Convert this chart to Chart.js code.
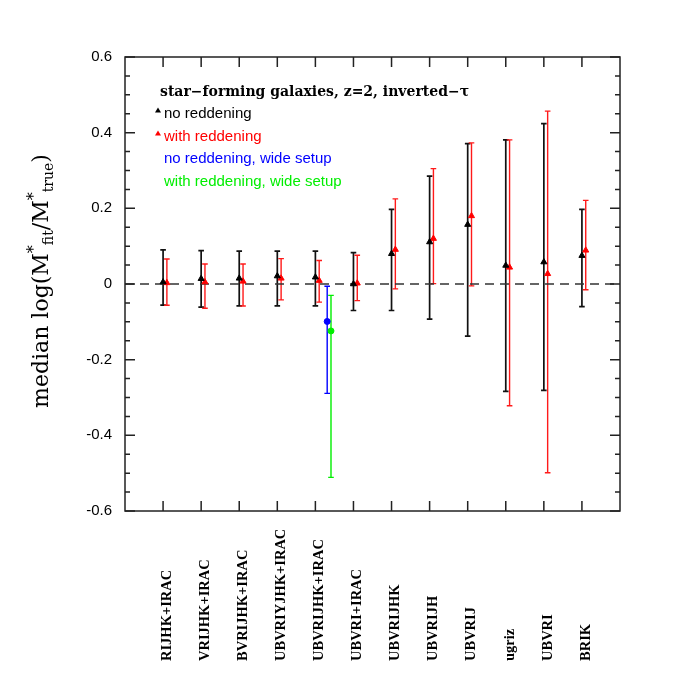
<!DOCTYPE html>
<html>
<head>
<meta charset="utf-8">
<script src="https://cdn.jsdelivr.net/npm/chart.js@4.4.1/dist/chart.umd.min.js"></script>
<style>
  html, body { margin: 0; padding: 0; background: #fff; }
  #c { display: block; }
</style>
</head>
<body>
<canvas id="c" width="676" height="676"></canvas>
<script>
// photometric setups along the x axis
var setups = ['RIJHK+IRAC', 'VRIJHK+IRAC', 'BVRIJHK+IRAC', 'UBVRIYJHK+IRAC', 'UBVRIJHK+IRAC',
  'UBVRI+IRAC', 'UBVRIJHK', 'UBVRIJH', 'UBVRIJ', 'ugriz', 'UBVRI', 'BRIK'];

// no reddening : median, upper and lower end of the bar
var noRedMed = [0.005, 0.014, 0.015, 0.021, 0.018, 0.000, 0.080, 0.111, 0.157, 0.049, 0.058, 0.075];
var noRedHi  = [0.090, 0.088, 0.087, 0.087, 0.087, 0.083, 0.197, 0.285, 0.371, 0.381, 0.424, 0.197];
var noRedLo  = [-0.056, -0.061, -0.058, -0.058, -0.058, -0.070, -0.070, -0.093, -0.138, -0.284, -0.281, -0.060];

// with reddening
var redMed = [0.003, 0.005, 0.007, 0.015, 0.009, 0.002, 0.091, 0.120, 0.180, 0.044, 0.027, 0.089];
var redHi  = [0.066, 0.053, 0.053, 0.067, 0.062, 0.076, 0.225, 0.305, 0.373, 0.381, 0.457, 0.221];
var redLo  = [-0.056, -0.064, -0.058, -0.042, -0.048, -0.044, -0.013, 0.001, -0.005, -0.322, -0.499, -0.015];

// wide setup (only for UBVRIJHK+IRAC)
var wideSetup = 'UBVRIJHK+IRAC';
var wideNoRed = [-0.099, -0.006, -0.289];   // median, hi, lo
var wideRed   = [-0.124, -0.030, -0.511];

var yTicks = [0.6, 0.4, 0.2, 0, -0.2, -0.4, -0.6];

var titleText = 'star\u2212forming galaxies, z=2, inverted\u2212\u03c4';
var legendTexts = ['no reddening', 'with reddening', 'no reddening, wide setup', 'with reddening, wide setup'];

function pts(med, off) {
  return med.map(function (v, i) { return {x: i + 1 + off, y: v}; });
}
var wideIdx = setups.indexOf(wideSetup) + 1;

var datasets = [
  {type: 'line', data: [{x: 0, y: 0}, {x: setups.length + 1, y: 0}], borderColor: '#333', borderWidth: 1.5,
    borderDash: [9, 6], pointRadius: 0, order: 5},
  {data: pts(noRedMed, 0), hi: noRedHi, lo: noRedLo, backgroundColor: '#000', borderColor: '#000',
    pointStyle: 'triangle', pointRadius: 3.5, barColor: '#111', barWidth: 1.7},
  {data: pts(redMed, 0.1), hi: redHi, lo: redLo, backgroundColor: '#ff0000', borderColor: '#ff0000',
    pointStyle: 'triangle', pointRadius: 3.5, barColor: '#ff1a1a', barWidth: 1.4},
  {data: [{x: wideIdx + 0.31, y: wideNoRed[0]}], hi: [wideNoRed[1]], lo: [wideNoRed[2]], backgroundColor: '#0000ff',
    borderColor: '#0000ff', pointStyle: 'circle', pointRadius: 3, barColor: '#0000ff', barWidth: 1.4},
  {data: [{x: wideIdx + 0.41, y: wideRed[0]}], hi: [wideRed[1]], lo: [wideRed[2]], backgroundColor: '#00ee00',
    borderColor: '#00ee00', pointStyle: 'circle', pointRadius: 3, barColor: '#00ee00', barWidth: 1.4}
];

var frame = {
  id: 'frame',
  beforeDatasetsDraw: function (chart) {
    var ctx = chart.ctx, xs = chart.scales.x, ys = chart.scales.y;
    chart.data.datasets.forEach(function (ds) {
      if (!ds.hi) return;
      ctx.save();
      ctx.strokeStyle = ds.barColor;
      ctx.lineWidth = ds.barWidth;
      ds.data.forEach(function (p, i) {
        var x = xs.getPixelForValue(p.x);
        var yh = ys.getPixelForValue(ds.hi[i]), yl = ys.getPixelForValue(ds.lo[i]);
        ctx.beginPath();
        ctx.moveTo(x, yh); ctx.lineTo(x, yl);
        ctx.moveTo(x - 2.8, yh); ctx.lineTo(x + 2.8, yh);
        ctx.moveTo(x - 2.8, yl); ctx.lineTo(x + 2.8, yl);
        ctx.stroke();
      });
      ctx.restore();
    });
  },
  afterDraw: function (chart) {
    var ctx = chart.ctx, a = chart.chartArea, xs = chart.scales.x, ys = chart.scales.y;
    ctx.save();
    ctx.strokeStyle = '#222';
    ctx.lineWidth = 1.5;
    ctx.strokeRect(a.left, a.top, a.right - a.left, a.bottom - a.top);

    // inward ticks
    ctx.beginPath();
    for (var i = 1; i <= setups.length; i++) {
      var x = xs.getPixelForValue(i);
      ctx.moveTo(x, a.top); ctx.lineTo(x, a.top + 10);
      ctx.moveTo(x, a.bottom); ctx.lineTo(x, a.bottom - 10);
    }
    for (var k = -12; k <= 12; k++) {
      var y = ys.getPixelForValue(k * 0.05);
      var len = (k % 4 === 0) ? 10 : 5;
      ctx.moveTo(a.left, y); ctx.lineTo(a.left + len, y);
      ctx.moveTo(a.right, y); ctx.lineTo(a.right - len, y);
    }
    ctx.stroke();

    // setup names, rotated, starting from the bottom
    ctx.fillStyle = '#000';
    ctx.font = 'bold 14.5px "Liberation Serif"';
    ctx.textAlign = 'left';
    ctx.textBaseline = 'middle';
    setups.forEach(function (s, i) {
      var x = xs.getPixelForValue(i + 1) + 4;
      ctx.save();
      ctx.translate(x, 661);
      ctx.rotate(-Math.PI / 2);
      ctx.fillText(s, 0, 0);
      ctx.restore();
    });

    // legend block
    ctx.textBaseline = 'alphabetic';
    ctx.font = 'bold 14px "DejaVu Serif"';
    ctx.fillText(titleText, 160, 96);
    ctx.font = '15px "Liberation Sans"';
    var cols = ['#000', '#ff0000', '#0000ff', '#00ee00'];
    var ly = [118, 141, 163, 186];
    legendTexts.forEach(function (t, i) {
      ctx.fillStyle = cols[i];
      ctx.fillText(t, 164, ly[i]);
    });
    [0, 1].forEach(function (i) {
      ctx.fillStyle = cols[i];
      ctx.beginPath();
      ctx.moveTo(158, ly[i] - 10.5);
      ctx.lineTo(161, ly[i] - 5.5);
      ctx.lineTo(155, ly[i] - 5.5);
      ctx.closePath();
      ctx.fill();
    });

    // y axis title with sub/superscripts
    var parts = [['median log(M', 22, 0], ['*', 16, -9], ['fit', 14, 5], ['/M', 22, 0],
      ['*', 16, -9], ['true', 14, 5], [')', 22, 0]];
    var total = 0;
    parts.forEach(function (p) {
      ctx.font = p[1] + 'px "DejaVu Serif"';
      p.w = ctx.measureText(p[0]).width;
      total += p.w;
    });
    ctx.fillStyle = '#000';
    ctx.translate(48, 281);
    ctx.rotate(-Math.PI / 2);
    var px = -total / 2;
    parts.forEach(function (p) {
      ctx.font = p[1] + 'px "DejaVu Serif"';
      ctx.fillText(p[0], px, p[2]);
      px += p.w;
    });
    ctx.restore();
  }
};

new Chart('c', {
  type: 'scatter',
  data: {datasets: datasets},
  options: {
    responsive: false,
    animation: false,
    layout: {padding: {top: 57, right: 56, bottom: 165, left: 0}},
    plugins: {legend: {display: false}, tooltip: {enabled: false}},
    scales: {
      x: {type: 'linear', min: 0, max: setups.length + 1, display: false},
      y: {
        min: -0.6, max: 0.6,
        afterFit: function (s) { s.width = 125; },
        grid: {display: false, drawTicks: false},
        border: {display: false},
        afterBuildTicks: function (s) { s.ticks = yTicks.map(function (v) { return {value: v}; }); },
        ticks: {
          padding: 13, color: '#000',
          font: {family: '"Liberation Sans"', size: 15},
          callback: function (v) { return String(Math.round(v * 10) / 10); }
        }
      }
    }
  },
  plugins: [frame]
});
</script>
</body>
</html>
